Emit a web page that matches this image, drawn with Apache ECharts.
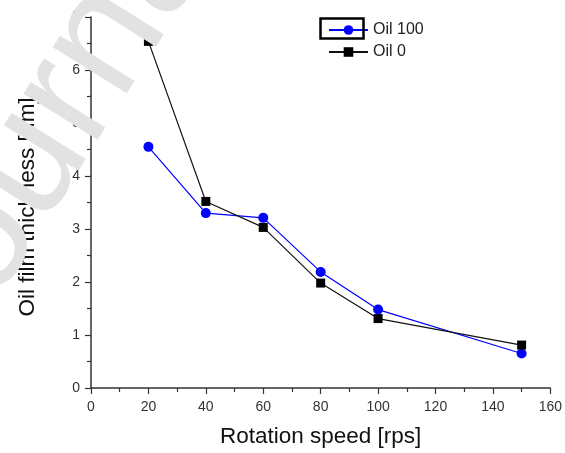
<!DOCTYPE html>
<html>
<head>
<meta charset="utf-8">
<script src="https://cdn.jsdelivr.net/npm/echarts@6/dist/echarts.min.js"></script>
<style>html,body{margin:0;padding:0;background:#fff;}#c{width:565px;height:453px;}</style>
</head>
<body>
<div id="c"></div>
<script>
var speeds = [20, 40, 60, 80, 100, 150];
var oil100 = [4.55, 3.30, 3.21, 2.19, 1.48, 0.65];
var oil0 = [6.54, 3.52, 3.03, 1.98, 1.31, 0.81];
var seriesNames = ['Oil 100', 'Oil 0'];
var xTitle = 'Rotation speed [rps]';
var yTitle = 'Oil film thickness [\u03bcm]';
var watermark = 'Journal Pre-proof';

function pairs(xs, ys) { return xs.map(function (x, i) { return [x, ys[i]]; }); }

var chart = echarts.init(document.getElementById('c'), null, { renderer: 'canvas' });
var font = 'Liberation Sans, Arial, sans-serif';
var axisCommon = {
  axisLine: { show: true, lineStyle: { color: '#333', width: 1.5 } },
  axisTick: { show: true, inside: false, length: 6, lineStyle: { color: '#333', width: 1.2 } },
  minorTick: { show: true, splitNumber: 2, length: 4, lineStyle: { color: '#333', width: 1.2 } },
  splitLine: { show: false },
  axisLabel: { color: '#333', fontSize: 14, fontFamily: font },
  nameTextStyle: { color: '#111', fontSize: 22.5, fontFamily: font }
};
chart.setOption({
  animation: false,
  backgroundColor: '#fff',
  grid: { left: 91, right: 12, top: 17, bottom: 64, containLabel: false },
  xAxis: Object.assign({}, axisCommon, {
    type: 'value', min: 0, max: 160, interval: 20,
    name: xTitle, nameLocation: 'middle', nameGap: 37,
    axisLabel: Object.assign({}, axisCommon.axisLabel, { margin: 12 })
  }),
  yAxis: Object.assign({}, axisCommon, {
    type: 'value', min: 0, max: 7, interval: 1,
    name: yTitle, nameLocation: 'middle', nameGap: 52,
    nameTextStyle: Object.assign({}, axisCommon.nameTextStyle, { padding: [0, 9, 0, 0] }),
    axisLabel: Object.assign({}, axisCommon.axisLabel, { margin: 11 })
  }),
  legend: {
    orient: 'vertical', left: 323, top: 17, itemWidth: 39, itemHeight: 12, itemGap: 6,
    textStyle: { color: '#222', fontSize: 16, fontFamily: font },
    data: seriesNames
  },
  series: [
    {
      name: seriesNames[0], type: 'line', data: pairs(speeds, oil100),
      symbol: 'circle', symbolSize: 10,
      lineStyle: { color: '#0000ff', width: 1.2 },
      itemStyle: { color: '#0000ff' }
    },
    {
      name: seriesNames[1], type: 'line', data: pairs(speeds, oil0),
      symbol: 'rect', symbolSize: 9,
      lineStyle: { color: '#111', width: 1.2 },
      itemStyle: { color: '#000' }
    }
  ],
  graphic: [
    { type: 'rect', z: 100, shape: { x: 320.5, y: 18.5, width: 43, height: 20 },
      style: { fill: 'none', stroke: '#000', lineWidth: 2.5 } },
    { type: 'text', z: 200, x: -88, y: 351, rotation: 58 * Math.PI / 180,
      style: { text: watermark, fontSize: 165, fontFamily: font, fill: '#e2e2e2',
               textAlign: 'left', textVerticalAlign: 'middle' } }
  ]
});
</script>
</body>
</html>
